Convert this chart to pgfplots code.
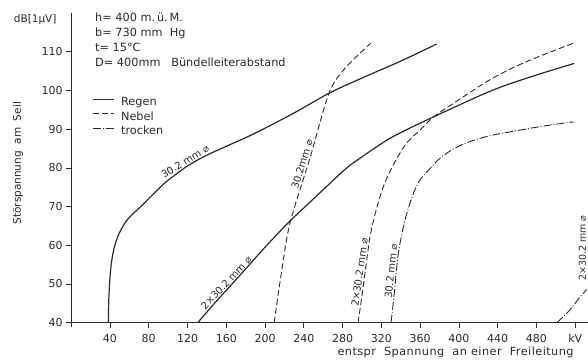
\documentclass[border=0pt]{standalone}
\usepackage{pgfplots}
\pgfplotsset{compat=1.18}
\usepackage{fontspec}
\setmainfont{DejaVu Sans}
\definecolor{ink}{HTML}{2A2A2A}
\begin{document}
\begin{tikzpicture}[font=\fontsize{11.3}{13}\selectfont, color=ink]
\begin{axis}[
  x=0.9693pt, y=3.87pt,
  xmin=0, xmax=533.2, ymin=40, ymax=120,
  axis x line=bottom, axis y line=left,
  axis line style={-, line width=0.9pt, ink},
  x axis line style={shorten <=-4pt},
  y axis line style={shorten <=-4pt},
  xtick={40,80,...,520},
  xticklabels={40,80,120,160,200,240,280,320,360,400,440,480,kV},
  ytick={40,50,...,110},
  tick align=outside, major tick length=5pt,
  tick style={ink, line width=0.7pt},
  xticklabel style={font=\fontsize{11}{13}\selectfont, yshift=-3pt, text=ink},
  yticklabel style={font=\fontsize{11}{13}\selectfont, text=ink},
  /pgf/number format/assume math mode=true,
  clip=false,
  legend style={at={(0.0402,0.7258)}, anchor=north west, draw=none, fill=none,
    inner sep=0pt, outer sep=0pt, row sep=4.3pt, column sep=7pt,
    font=\fontsize{11.3}{13}\selectfont, text=ink,
    nodes={inner sep=0pt, text height=8pt, text depth=2pt}},
  legend cell align=left,
  legend image code/.code={\draw[#1] (0pt,3.6pt) -- (21pt,3.6pt);},
]
\addlegendimage{ink, line width=1.1pt}
\addlegendentry{Regen}
\addlegendimage{ink, line width=0.9pt, dash pattern=on 6pt off 3pt}
\addlegendentry{Nebel}
\addlegendimage{ink, line width=0.9pt, dash pattern=on 8pt off 2pt on 1pt off 2pt}
\addlegendentry{trocken}

% Regen 30.2 mm
\addplot[forget plot, ink, line width=1.2pt, smooth] coordinates {
(38.3,40)(38.8,46)(39.8,51)(41.5,55.5)(44.5,59.5)(49,62.8)(56,66)(63,68)(71,69.8)
(85,73.3)(98.5,76.5)(120,80.5)(140,83.3)(162,85.8)(190,89)(230,94.2)(266,99.3)
(298,103)(340,107.6)(377,112)};
% Regen 2x30.2 mm
\addplot[forget plot, ink, line width=1.2pt, smooth] coordinates {
(130.5,40)(150,45.6)(175,52.5)(200,59.5)(225,66.1)(250,72)(282,79.5)(298,82.5)
(330,87.8)(374,93.2)(435,100.1)(480,104)(519,107)};
% Nebel 30.2 mm
\addplot[forget plot, ink, line width=0.9pt, dash pattern=on 6pt off 3pt, smooth] coordinates {
(209.5,40)(216.5,52.3)(225.7,65.7)(246.4,82.6)(266,99.3)(282,105.6)(309,112.2)};
% Nebel 2x30.2 mm
\addplot[forget plot, ink, line width=0.9pt, dash pattern=on 6pt off 3pt, smooth] coordinates {
(296,40)(300,47)(304,54.5)(308.3,62.2)(313,67.5)(318.6,72.6)(325,77)(335,82)
(346,86.4)(360,89.8)(374,93.2)(400,97.6)(428.7,102.3)(455,105.8)(483.7,108.9)(519,112.3)};
% trocken 30.2 mm
\addplot[forget plot, ink, line width=0.9pt, dash pattern=on 8pt off 2pt on 1pt off 2pt, smooth] coordinates {
(330,40)(333.5,48)(337.5,57.9)(344.4,66.5)(353,73.4)(360,76.9)(370,79.8)(380.5,82.5)
(395,85)(411.4,86.8)(430,88.2)(452.7,89.3)(487,90.8)(518,91.9)};
% trocken 2x30.2 mm
\addplot[forget plot, ink, line width=0.9pt, dash pattern=on 8pt off 2pt on 1pt off 2pt, smooth] coordinates {
(501,40)(508,41.6)(514.6,43.3)(520,45)(525,46.7)(532,48.6)};

% header text
\node[anchor=base west] at (axis cs:21.15,117.83) {h= 400 m.\,ü.\,M.};
\node[anchor=base west] at (axis cs:21.15,114.08) {b= 730 mm\ \ Hg};
\node[anchor=base west] at (axis cs:21.15,110.08) {t= 15°C};
\node[anchor=base west] at (axis cs:21.15,106.2) {D= 400mm\ \ \ Bündelleiterabstand};

% axis captions
\node[anchor=east, font=\fontsize{10.5}{12}\selectfont] at (axis cs:-11.5,118.2) {dB[1μV]};
\node[rotate=90, font=\fontsize{10.5}{12}\selectfont] at (axis cs:-54.9,81.2) {Störspannung\ \ am\ \ Seil};
\node[anchor=east, font=\fontsize{11.3}{13}\selectfont\addfontfeature{LetterSpace=4}] at (axis cs:522,32.2) {entspr\ \ Spannung\ \ an\ einer\ \ Freileitung};

% curve labels
\begin{scope}[every node/.style={font=\fontsize{10}{12}\selectfont, inner sep=1.5pt, anchor=south}]
\node[rotate=32] at (axis cs:120.5,80.5) {30.2 mm ⌀};
\node[rotate=47] at (axis cs:164,49.3) {2×30.2 mm ⌀};
\node[rotate=73] at (axis cs:243.5,80.5) {30.2mm ⌀};
\node[rotate=82] at (axis cs:303.1,52.8) {2×30.2 mm ⌀};
\node[rotate=84] at (axis cs:335.6,53.1) {30.2 mm ⌀};
\node[rotate=90, font=\fontsize{9.5}{11}\selectfont] at (axis cs:533,59.3) {2×30.2 mm ⌀};
\end{scope}

\coordinate (bbl) at (axis cs:-73.46,30.36);
\coordinate (btr) at (axis cs:533.2,123.39);
\end{axis}
\pgfresetboundingbox
\path[use as bounding box] (bbl) rectangle (btr);
\end{tikzpicture}
\end{document}
